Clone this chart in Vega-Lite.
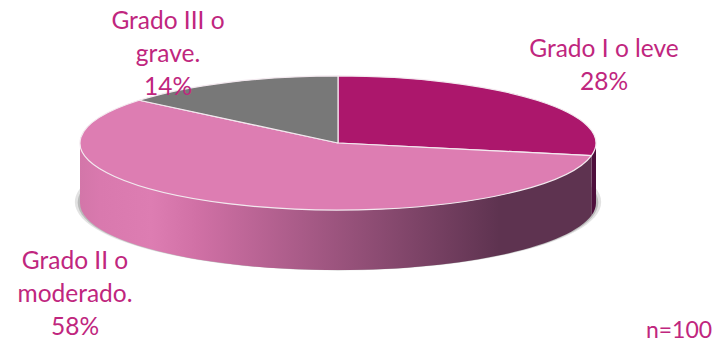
{
  "$schema": "https://vega.github.io/schema/vega-lite/v6.json",
  "width": 716,
  "height": 341,
  "padding": 0,
  "autosize": "none",
  "background": "white",
  "config": {"view": {"stroke": null}},
  "data": {
    "values": [
      {"grado": "I", "nombre": "Grado I o leve", "valor": 28},
      {"grado": "II", "nombre": "Grado II o\nmoderado.", "valor": 58},
      {"grado": "III", "nombre": "Grado III o\ngrave.", "valor": 14}
    ]
  },
  "transform": [
    {"window": [{"op": "sum", "field": "valor", "as": "acum"}], "frame": [null, 0]},
    {"calculate": "(datum.acum - datum.valor) * 2 * PI / 100", "as": "a0"},
    {"calculate": "datum.acum * 2 * PI / 100", "as": "a1"},
    {"calculate": "round(sin(datum.a0) * 1e5) / 1e5 + ' ' + round(-0.26 * cos(datum.a0) * 1e5) / 1e5", "as": "p0"},
    {"calculate": "round(sin(datum.a1) * 1e5) / 1e5 + ' ' + round(-0.26 * cos(datum.a1) * 1e5) / 1e5", "as": "p1"},
    {"calculate": "'M0 0L' + datum.p0 + 'A1 0.26 0 ' + (datum.a1 - datum.a0 > PI ? 1 : 0) + ' 1 ' + datum.p1 + 'Z'", "as": "cuna"},
    {"calculate": "max(datum.a0, PI / 2)", "as": "b0"},
    {"calculate": "min(datum.a1, 3 * PI / 2)", "as": "b1"},
    {"calculate": "'M' + round(sin(datum.b0) * 1e5) / 1e5 + ' ' + round(-0.26 * cos(datum.b0) * 1e5) / 1e5 + 'A1 0.26 0 0 1 ' + round(sin(datum.b1) * 1e5) / 1e5 + ' ' + round(-0.26 * cos(datum.b1) * 1e5) / 1e5 + 'L' + round(sin(datum.b1) * 1e5) / 1e5 + ' ' + round((0.2326 - 0.26 * cos(datum.b1)) * 1e5) / 1e5 + 'A1 0.26 0 0 0 ' + round(sin(datum.b0) * 1e5) / 1e5 + ' ' + round((0.2326 - 0.26 * cos(datum.b0)) * 1e5) / 1e5 + 'Z'", "as": "pared"},
    {"calculate": "datum.nombre + '\\n' + datum.valor + '%'", "as": "etiqueta"}
  ],
  "encoding": {
    "x": {"datum": 0, "type": "quantitative", "axis": null, "scale": {"domain": [-338, 378], "nice": false, "zero": false}},
    "y": {"datum": 0, "type": "quantitative", "axis": null, "scale": {"domain": [-198, 143], "nice": false, "zero": false}}
  },
  "layer": [
    {
      "data": {"values": [{"capa": "sombra"}]},
      "transform": [],
      "mark": {"type": "point", "filled": true, "opacity": 0.3, "fill": "#a0a0a0", "strokeWidth": 0, "size": 277000, "shape": "M-1 0A1 0.26 0 1 1 1 0A1 0.26 0 1 1 -1 0Z"},
      "encoding": {"y": {"datum": -59, "type": "quantitative"}}
    },
    {
      "data": {"values": [{"capa": "sombra"}]},
      "transform": [],
      "mark": {"type": "point", "filled": true, "opacity": 0.8, "fill": "#b0b0b0", "strokeWidth": 0, "size": 271000, "shape": "M-1 0A1 0.26 0 1 1 1 0A1 0.26 0 1 1 -1 0Z"},
      "encoding": {"y": {"datum": -59.5, "type": "quantitative"}}
    },
    {
      "transform": [{"filter": "datum.grado === 'I'"}],
      "mark": {"type": "point", "filled": true, "opacity": 1, "fill": "#4e0f3c", "strokeWidth": 0, "size": 266256},
      "encoding": {"shape": {"field": "pared", "type": "nominal", "scale": null}}
    },
    {
      "transform": [{"filter": "datum.grado === 'II'"}],
      "mark": {
        "type": "point",
        "filled": true,
        "opacity": 1,
        "strokeWidth": 0,
        "size": 266256,
        "fill": {
          "gradient": "linear",
          "x1": 0,
          "x2": 1,
          "y1": 0,
          "y2": 0,
          "stops": [
            {"offset": 0, "color": "#d376a9"},
            {"offset": 0.04, "color": "#d979ae"},
            {"offset": 0.14, "color": "#dd7db2"},
            {"offset": 0.23, "color": "#d070a5"},
            {"offset": 0.82, "color": "#5e3350"},
            {"offset": 1, "color": "#5e3350"}
          ]
        }
      },
      "encoding": {"shape": {"field": "pared", "type": "nominal", "scale": null}}
    },
    {
      "mark": {"type": "point", "filled": true, "opacity": 1, "stroke": "#f3e9ef", "strokeWidth": 1.2, "strokeJoin": "round", "size": 266256},
      "encoding": {
        "shape": {"field": "cuna", "type": "nominal", "scale": null},
        "fill": {
          "field": "grado",
          "type": "nominal",
          "legend": null,
          "scale": {"domain": ["I", "II", "III"], "range": ["#ac176c", "#dd7db2", "#787878"]}
        }
      }
    },
    {
      "transform": [{"filter": "datum.grado === 'I'"}],
      "mark": {"type": "text", "font": "Lato", "fontSize": 24.5, "lineBreak": "\n", "lineHeight": 33, "color": "#c0267e", "align": "center", "baseline": "middle"},
      "encoding": {
        "x": {"datum": 266, "type": "quantitative"},
        "y": {"datum": 93, "type": "quantitative"},
        "text": {"field": "etiqueta", "type": "nominal"}
      }
    },
    {
      "transform": [{"filter": "datum.grado === 'II'"}],
      "mark": {"type": "text", "font": "Lato", "fontSize": 24.5, "lineBreak": "\n", "lineHeight": 33, "color": "#c0267e", "align": "center", "baseline": "middle"},
      "encoding": {
        "x": {"datum": -263, "type": "quantitative"},
        "y": {"datum": -119, "type": "quantitative"},
        "text": {"field": "etiqueta", "type": "nominal"}
      }
    },
    {
      "transform": [{"filter": "datum.grado === 'III'"}],
      "mark": {"type": "text", "font": "Lato", "fontSize": 24.5, "lineBreak": "\n", "lineHeight": 33, "color": "#c0267e", "align": "center", "baseline": "middle"},
      "encoding": {
        "x": {"datum": -170, "type": "quantitative"},
        "y": {"datum": 121, "type": "quantitative"},
        "text": {"field": "etiqueta", "type": "nominal"}
      }
    },
    {
      "data": {"values": [{"nota": "n=100"}]},
      "transform": [],
      "mark": {"type": "text", "font": "Lato", "fontSize": 23, "color": "#c0267e", "align": "center", "baseline": "middle"},
      "encoding": {
        "x": {"datum": 341, "type": "quantitative"},
        "y": {"datum": -188, "type": "quantitative"},
        "text": {"field": "nota", "type": "nominal"}
      }
    }
  ]
}
